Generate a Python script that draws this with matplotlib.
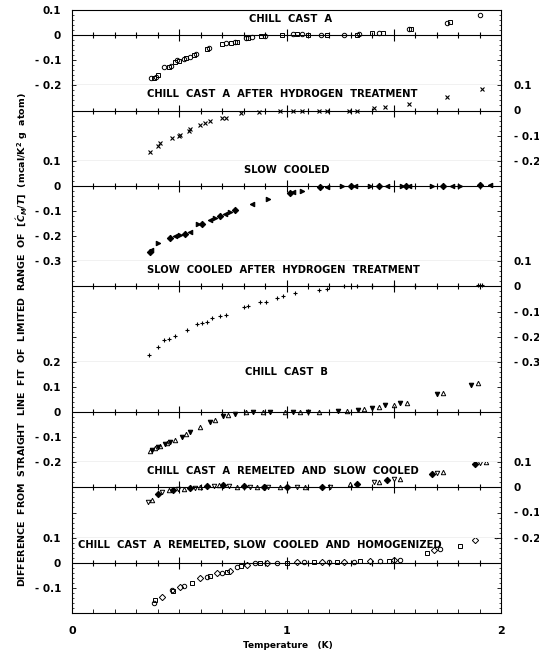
import numpy as np
import matplotlib.pyplot as plt
from matplotlib.ticker import MultipleLocator, FixedLocator, FuncFormatter

plt.rcParams['font.family'] = 'DejaVu Sans'
plt.rcParams['font.weight'] = 'bold'

# panel titles
titles = [
    "CHILL  CAST  A",
    "CHILL  CAST  A  AFTER  HYDROGEN  TREATMENT",
    "SLOW  COOLED",
    "SLOW  COOLED  AFTER  HYDROGEN  TREATMENT",
    "CHILL  CAST  B",
    "CHILL  CAST  A  REMELTED  AND  SLOW  COOLED",
    "CHILL  CAST  A  REMELTED, SLOW  COOLED  AND  HOMOGENIZED",
]

# y ranges and labelled ticks of each panel
y_ranges = [(-0.2, 0.1), (-0.2, 0.1), (-0.3, 0.1), (-0.3, 0.1), (-0.2, 0.2), (-0.2, 0.1), (-0.2, 0.1)]
y_ticklabels = [
    [0.1, 0, -0.1, -0.2],
    [0.1, 0, -0.1, -0.2],
    [0.1, 0, -0.1, -0.2, -0.3],
    [0.1, 0, -0.1, -0.2, -0.3],
    [0.2, 0.1, 0, -0.1, -0.2],
    [0.1, 0, -0.1, -0.2],
    [0.1, 0, -0.1],
]
label_side = ['left', 'right', 'left', 'right', 'left', 'right', 'left']

# chill cast A
p1_x = [0.37, 0.38, 0.39, 0.40, 0.43, 0.45, 0.46, 0.48, 0.49, 0.50, 0.52, 0.53, 0.55, 0.57, 0.58,
        0.63, 0.64, 0.70, 0.72, 0.74, 0.76, 0.77, 0.81, 0.82, 0.84, 0.88, 0.90, 0.98, 1.03, 1.05,
        1.07, 1.10, 1.16, 1.19, 1.27, 1.33, 1.34, 1.40, 1.43, 1.45, 1.57, 1.58, 1.75, 1.76, 1.90]
p1_y = [-0.172, -0.170, -0.166, -0.160, -0.128, -0.125, -0.122, -0.108, -0.100, -0.104, -0.095,
        -0.092, -0.088, -0.080, -0.074, -0.055, -0.052, -0.034, -0.032, -0.030, -0.028, -0.026,
        -0.012, -0.010, -0.006, -0.004, -0.003, 0.000, 0.004, 0.006, 0.004, 0.002, 0.000, 0.000,
        0.000, 0.002, 0.003, 0.010, 0.008, 0.008, 0.024, 0.026, 0.050, 0.053, 0.082]

# chill cast A after hydrogen treatment
p2_x = [0.364, 0.40, 0.41, 0.466, 0.50, 0.505, 0.546, 0.55, 0.597, 0.62, 0.644, 0.70, 0.72, 0.79,
        0.87, 0.97, 1.03, 1.07, 1.15, 1.19, 1.29, 1.33, 1.41, 1.46, 1.57, 1.75, 1.91]
p2_y = [-0.167, -0.14, -0.13, -0.109, -0.10, -0.098, -0.08, -0.075, -0.056, -0.05, -0.042, -0.031,
        -0.031, -0.009, -0.005, -0.001, 0, 0, 0, 0, 0, 0, 0.008, 0.012, 0.024, 0.052, 0.084]

# slow cooled
p3_x = [0.364, 0.368, 0.40, 0.457, 0.48, 0.504, 0.527, 0.55, 0.588, 0.607, 0.644, 0.667, 0.69,
        0.714, 0.737, 0.76, 0.84, 0.915, 1.017, 1.03, 1.07, 1.157, 1.19, 1.26, 1.30, 1.32, 1.39,
        1.43, 1.47, 1.54, 1.555, 1.57, 1.68, 1.73, 1.77, 1.81, 1.90, 1.95]
p3_y = [-0.262, -0.255, -0.228, -0.207, -0.200, -0.196, -0.191, -0.183, -0.152, -0.150, -0.137,
        -0.129, -0.120, -0.111, -0.103, -0.097, -0.071, -0.053, -0.027, -0.025, -0.020, -0.005,
        -0.003, 0.0, 0.0, 0.0, 0.0, 0.0, 0.0, 0.0, 0.0, 0.0, 0.0, 0.0, 0.0, 0.0, 0.005, 0.004]

# slow cooled after hydrogen treatment
p4_x = [0.36, 0.40, 0.43, 0.45, 0.48, 0.536, 0.583, 0.607, 0.63, 0.653, 0.69, 0.72, 0.80, 0.82,
        0.877, 0.905, 0.957, 0.985, 1.04, 1.15, 1.19, 1.27, 1.33, 1.40, 1.50, 1.60, 1.895, 1.91]
p4_y = [-0.275, -0.24, -0.215, -0.21, -0.199, -0.175, -0.148, -0.145, -0.141, -0.125, -0.117,
        -0.112, -0.084, -0.080, -0.064, -0.062, -0.048, -0.040, -0.028, -0.015, -0.011, 0, 0, 0,
        0, 0, 0.005, 0.005]

# chill cast B
p5_x = [0.364, 0.375, 0.387, 0.40, 0.41, 0.434, 0.445, 0.457, 0.48, 0.512, 0.53, 0.55, 0.597,
        0.644, 0.667, 0.705, 0.728, 0.76, 0.81, 0.845, 0.89, 0.924, 0.994, 1.03, 1.064, 1.10, 1.15,
        1.24, 1.28, 1.335, 1.36, 1.40, 1.43, 1.46, 1.50, 1.53, 1.56, 1.70, 1.73, 1.86, 1.895]
p5_y = [-0.155, -0.150, -0.145, -0.140, -0.136, -0.128, -0.124, -0.120, -0.112, -0.098, -0.088,
        -0.078, -0.058, -0.039, -0.032, -0.016, -0.012, -0.008, 0, 0, 0, 0, 0, 0, 0, 0, 0, 0.003,
        0.003, 0.008, 0.012, 0.017, 0.021, 0.028, 0.028, 0.035, 0.037, 0.071, 0.077, 0.108, 0.115]

# chill cast A remelted and slow cooled
p6_x = [0.355, 0.373, 0.40, 0.42, 0.45, 0.473, 0.496, 0.52, 0.55, 0.574, 0.597, 0.628, 0.66, 0.683,
        0.706, 0.73, 0.768, 0.80, 0.83, 0.862, 0.893, 0.916, 0.97, 1.00, 1.05, 1.087, 1.165, 1.204,
        1.297, 1.33, 1.406, 1.43, 1.47, 1.50, 1.53, 1.68, 1.70, 1.73, 1.88, 1.90, 1.93]
p6_y = [-0.059, -0.052, -0.025, -0.019, -0.012, -0.010, -0.008, -0.006, -0.004, -0.002, 0.0,
        0.004, 0.006, 0.008, 0.010, 0.004, 0.002, 0.004, 0.0, 0.0, 0.001, 0.0, 0.0, 0.0, 0.0, 0.0,
        0.001, 0.002, 0.012, 0.012, 0.021, 0.022, 0.031, 0.033, 0.035, 0.055, 0.058, 0.061, 0.092,
        0.097, 0.101]

# chill cast A remelted, slow cooled and homogenized
p7_x = [0.38, 0.387, 0.418, 0.465, 0.473, 0.504, 0.52, 0.558, 0.597, 0.628, 0.644, 0.675, 0.698,
        0.722, 0.737, 0.768, 0.79, 0.815, 0.854, 0.877, 0.908, 0.955, 1.00, 1.05, 1.08, 1.126,
        1.165, 1.196, 1.235, 1.266, 1.313, 1.344, 1.39, 1.437, 1.476, 1.50, 1.53, 1.655, 1.686,
        1.717, 1.81, 1.88, 1.975]
p7_y = [-0.161, -0.148, -0.135, -0.108, -0.112, -0.095, -0.092, -0.081, -0.061, -0.057, -0.052,
        -0.041, -0.039, -0.035, -0.031, -0.017, -0.012, -0.008, -0.002, -0.001, 0.0, 0.0, 0.0,
        0.001, 0.001, 0.001, 0.002, 0.002, 0.003, 0.003, 0.004, 0.005, 0.006, 0.008, 0.008, 0.010,
        0.010, 0.040, 0.052, 0.055, 0.068, 0.092, 0.108]

panels_x = [p1_x, p2_x, p3_x, p4_x, p5_x, p6_x, p7_x]
panels_y = [p1_y, p2_y, p3_y, p4_y, p5_y, p6_y, p7_y]

# marker sets (marker, filled)
markers = [
    [('o', False), ('s', False)],
    [('x', True), ('x', True)],
    [('D', True), ('<', True), ('>', True)],
    [('+', True)],
    [('^', False), ('v', True)],
    [('v', False), ('^', False), ('D', True)],
    [('o', False), ('s', False), ('D', False)],
]
title_y = [0.064, 0.064, 0.064, 0.064, 0.16, 0.064, 0.072]
title_x = [1.02, 0.35, 1.0, 0.35, 1.0, 0.35, 0.03]
title_ha = ['center', 'left', 'center', 'left', 'center', 'left', 'left']

fig = plt.figure(figsize=(5.39, 6.51), dpi=100)
gs = fig.add_gridspec(7, 1, height_ratios=[3, 3, 4, 4, 4, 3, 3], hspace=0,
                      left=72 / 539, right=501 / 539, top=1 - 10 / 651, bottom=1 - 613 / 651)

def fmt(v, pos):
    if abs(v) < 1e-9:
        return '0'
    if v < 0:
        return '- %.1f' % (-v)
    return '%.1f' % v

zero_ticks = np.round(np.arange(0.1, 2.0, 0.1), 1)
for i in range(7):
    ax = fig.add_subplot(gs[i])
    ax.set_xlim(0, 2)
    ax.set_ylim(*y_ranges[i])
    for sp in ax.spines.values():
        sp.set_linewidth(0.8)
    if i > 0:
        ax.spines['top'].set_visible(False)
    ax.axhline(0, color='black', lw=0.8)
    big = np.isin(zero_ticks, [0.5, 1.0, 1.5])
    ax.plot(zero_ticks[~big], np.zeros((~big).sum()), ls='none', marker='|', ms=5, mew=0.8, color='black')
    ax.plot(zero_ticks[big], np.zeros(big.sum()), ls='none', marker='|', ms=8, mew=0.8, color='black')

    mk = markers[i]
    for j, (m, filled) in enumerate(mk):
        xs = panels_x[i][j::len(mk)]
        ys = panels_y[i][j::len(mk)]
        if filled:
            ax.plot(xs, ys, ls='none', marker=m, ms=3.2, color='black', mew=0.8)
        else:
            ax.plot(xs, ys, ls='none', marker=m, ms=3.2, mfc='none', mec='black', mew=0.7)

    ax.text(title_x[i], title_y[i], titles[i], ha=title_ha[i], va='center', fontsize=7.2,
            fontweight='bold')

    ax.yaxis.set_major_locator(FixedLocator(y_ticklabels[i]))
    ax.yaxis.set_minor_locator(MultipleLocator(0.02))
    ax.yaxis.set_major_formatter(FuncFormatter(fmt))
    left = label_side[i] == 'left'
    ax.tick_params(axis='y', which='both', direction='in', left=True, right=True,
                   labelleft=left, labelright=not left, labelsize=7.5)
    ax.tick_params(axis='y', which='major', length=3, width=0.6, pad=8 if left else 9)
    ax.tick_params(axis='y', which='minor', length=1.5, width=0.5)

    ax.xaxis.set_minor_locator(MultipleLocator(0.1))
    ax.xaxis.set_major_locator(MultipleLocator(1))
    if i < 6:
        ax.tick_params(axis='x', which='both', bottom=False, labelbottom=False)
    else:
        ax.tick_params(axis='x', which='both', direction='in', length=3, width=0.6, pad=9,
                       labelsize=8)
        ax.xaxis.set_major_formatter(FuncFormatter(lambda v, p: '%d' % v))

fig.text(288 / 539, 1 - 645 / 651, 'Temperature   (K)', ha='center', va='center', fontsize=6.5,
         fontweight='bold')
fig.text(22 / 539, 1 - 340 / 651,
         r'DIFFERENCE  FROM  STRAIGHT  LINE  FIT  OF  LIMITED  RANGE  OF  $[\acute{C}_M/T]$  (mcal/K$^2$ g  atom)',
         rotation=90, ha='center', va='center', fontsize=6.8, fontweight='bold')

fig.savefig('out.png', dpi=100)
